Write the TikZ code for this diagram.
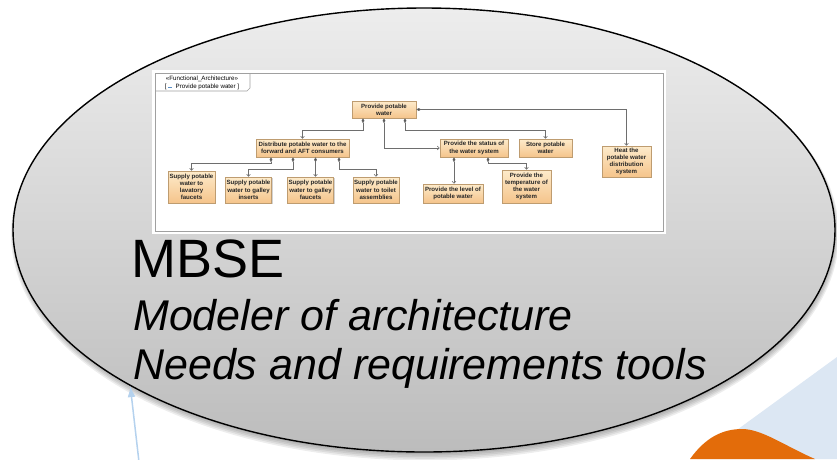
\documentclass[tikz,border=0pt]{standalone}
\usepackage{fontspec}
\setmainfont{Liberation Sans}
\usetikzlibrary{arrows.meta,shadows,shapes.geometric}

\definecolor{ellTop}{HTML}{EDEDED}
\definecolor{ellBot}{HTML}{BCBCBC}
\definecolor{boxTop}{HTML}{FDEBCB}
\definecolor{boxBot}{HTML}{F5C48B}
\definecolor{boxLine}{HTML}{BE9C70}
\definecolor{linkGray}{HTML}{6E6E6E}
\definecolor{frameGray}{HTML}{A0A0A0}
\definecolor{paleBlue}{HTML}{DCE7F3}
\definecolor{arrowBlue}{HTML}{B5D2EE}
\definecolor{accentOrange}{HTML}{E36C0A}
\definecolor{iconBlue}{HTML}{5A8FC8}

\begin{document}
\begin{tikzpicture}[x=1pt,y=-1pt,
  fn/.style={draw=boxLine, line width=0.5pt, top color=boxTop, bottom color=boxBot,
    align=center, inner sep=1pt, text=black!85, font=\fontsize{6.1}{7.2}\selectfont\bfseries,
    drop shadow={shadow xshift=1.2pt, shadow yshift=-1.2pt, opacity=0.35}},
  link/.style={draw=linkGray, line width=0.6pt,
    {Diamond[length=5pt,width=2.8pt,fill=linkGray!70!black]}-{Straight Barb[length=2pt,width=3.6pt]}},
  tabtext/.style={font=\fontsize{6.2}{7}\selectfont, inner sep=0pt},
]
\useasboundingbox (0,0) rectangle (837,459);

% corner decoration, bottom right
\fill[paleBlue] (837,357) -- (697,459) -- (837,459) -- cycle;
\fill[accentOrange] (690,459) .. controls (705,438) and (722,429) .. (742,429)
  .. controls (762,429) and (785,446) .. (815,459) -- cycle;

% soft shadow under the big ellipse
\foreach \i in {0,...,4}
  \fill[black, opacity=0.07] (425,232+0.6*\i) ellipse [x radius=410+\i, y radius=222+\i];

% the big ellipse
\node[ellipse, draw=black, line width=1.4pt, top color=ellTop, bottom color=ellBot,
  minimum width=822pt, minimum height=444pt, inner sep=0pt] (cloud) at (424,230) {};

% screenshot frame of the functional architecture
\fill[white] (152,70) rectangle (666,234);
\draw[frameGray, line width=0.8pt] (155,73) rectangle (663,231);
\draw[frameGray, line width=0.6pt] (155,91) -- (247,91) -- (250,88) -- (250,73);
\node[tabtext] (stereo) at (202,79) {«Functional\_Architecture»};
\node[tabtext] (tabname) at (202,86.5)
  {[ \textcolor{iconBlue}{\rule{4pt}{1.6pt}}\ \ Provide potable water ]};

% functions
\node[fn, minimum width=64pt, minimum height=17pt] (ppw) at (384,109.5) {Provide potable\\water};
\node[fn, minimum width=93pt, minimum height=18pt] (dist) at (302.5,148) {Distribute potable water to the\\forward and AFT consumers};
\node[fn, minimum width=47pt, minimum height=32pt] (lav) at (191.5,187) {Supply potable\\water to\\lavatory\\faucets};
\node[fn, minimum width=35pt, minimum height=26pt] (gin) at (248.5,190) {Supply potable\\water to galley\\inserts};
\node[fn, minimum width=35pt, minimum height=26pt] (gfa) at (310.5,190) {Supply potable\\water to galley\\faucets};
\node[fn, minimum width=38pt, minimum height=26pt] (toi) at (376,190) {Supply potable\\water to toilet\\assemblies};
\node[fn, minimum width=60pt, minimum height=19pt] (lvl) at (453,193.5) {Provide the level of\\potable water};
\node[fn, minimum width=68pt, minimum height=18pt] (sts) at (474,148) {Provide the status of\\the water system};
\node[fn, minimum width=53pt, minimum height=18pt] (sto) at (545.5,148) {Store potable\\water};
\node[fn, minimum width=49pt, minimum height=33pt] (tmp) at (526.5,186.5) {Provide the\\temperature of\\the water\\system};
\node[fn, minimum width=49pt, minimum height=31pt] (heat) at (626.5,161.5) {Heat the\\potable water\\distribution\\system};

% composition links (diamond at the whole)
\draw[link] ([xshift=-21pt]ppw.south) -- ++(0,12) -| (dist.north);
\draw[link] (ppw.south) |- (sts.west);
\draw[link] ([xshift=21pt]ppw.south) -- ++(0,12) -| (sto.north);
\draw[link] (ppw.east) -| (heat.north);
\draw[link] ([xshift=-31.5pt]dist.south) -- ++(0,6) -| (lav.north);
\draw[link] ([xshift=-9.5pt]dist.south) -- ++(0,12) -| (gin.north);
\draw[link] ([xshift=13pt]dist.south) -- ([xshift=13pt]dist.south |- gfa.north);
\draw[link] ([xshift=36.5pt]dist.south) -- ++(0,12) -| (toi.north);
\draw[link] ([xshift=-20pt]sts.south) -- ([xshift=-20pt]sts.south |- lvl.north);
\draw[link] ([xshift=14pt]sts.south) -- ++(0,6) -| (tmp.north);

% captions
\node[anchor=base west, inner sep=0pt, font=\fontsize{54}{60}\selectfont] (mbse) at (131,277) {MBSE};
\node[anchor=base west, inner sep=0pt, font=\fontsize{43}{50}\selectfont\itshape] (role1) at (133,330) {Modeler of architecture};
\node[anchor=base west, inner sep=0pt, font=\fontsize{43}{50}\selectfont\itshape] (role2) at (133,379) {Needs and requirements tools};

% incoming arrow from below
\coordinate (tail) at (139,462);
\draw[arrowBlue, line width=1.5pt, -{Latex[length=11pt,width=8pt]}]
  (tail) .. controls (135,430) .. (cloud.208.5);
\end{tikzpicture}
\end{document}
